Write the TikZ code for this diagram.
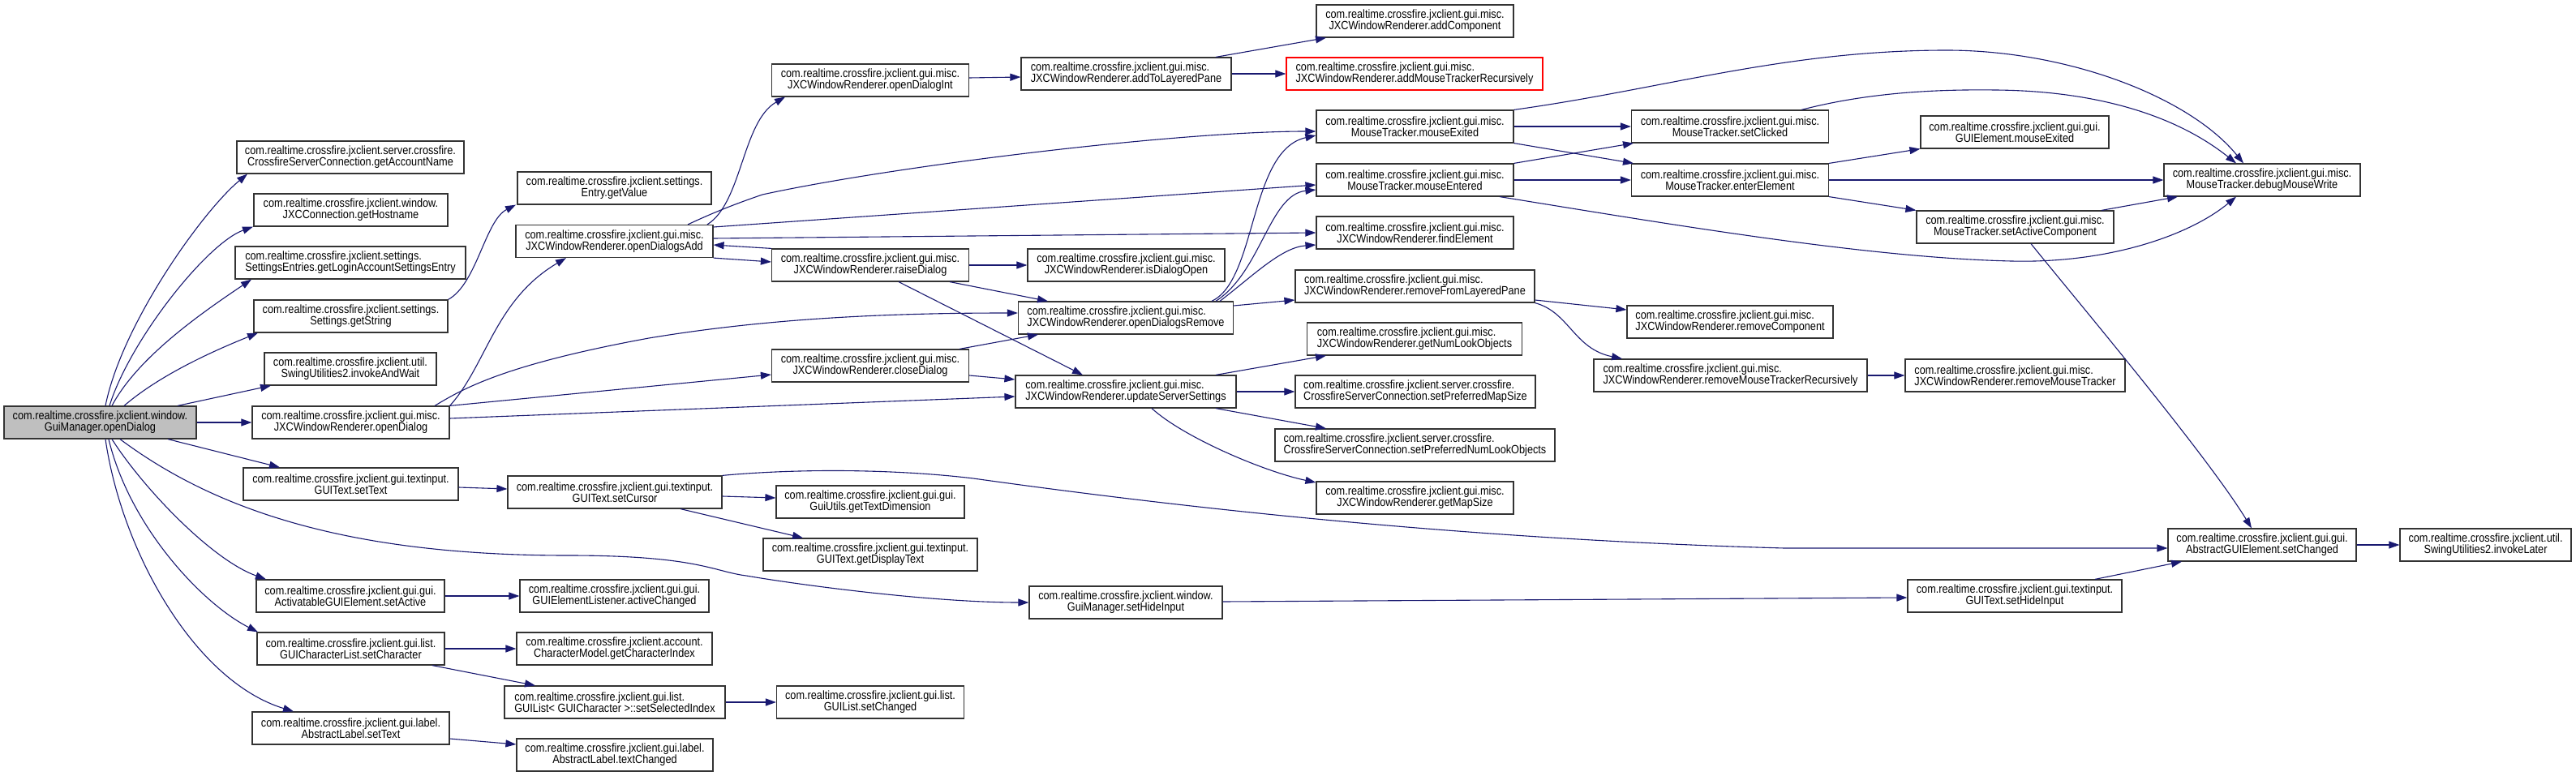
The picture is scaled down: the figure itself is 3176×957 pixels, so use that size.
\documentclass[tikz,border=0pt]{standalone}
\usepackage{fontspec}
\setmainfont{Liberation Sans}[FakeStretch=0.865]
\usetikzlibrary{arrows.meta}
\definecolor{edgeblue}{HTML}{191970}
\definecolor{nodegray}{HTML}{BFBFBF}
\definecolor{boxline}{HTML}{333333}
\begin{document}
\begin{tikzpicture}[x=1pt,y=-1pt,
  box/.style={draw=boxline, line width=1.2pt, fill=white, rectangle, minimum height=40pt,
    inner sep=0pt, font=\fontsize{14.7}{14}\selectfont, align=center, text=black},
  lbox/.style={box, align=left},
  edge/.style={draw=edgeblue, line width=1.1pt, -{Triangle[length=13pt,width=9pt]}}]
\useasboundingbox (0,0) rectangle (3176,957);

% column 0/1
\node[box, minimum width=237pt, fill=nodegray] (M) at (123.5,521) {com.realtime.crossfire.jxclient.window.\\GuiManager.openDialog};
\node[box, minimum width=280pt] (acct) at (432,194) {com.realtime.crossfire.jxclient.server.crossfire.\\CrossfireServerConnection.getAccountName};
\node[box, minimum width=239pt] (host) at (432.5,259) {com.realtime.crossfire.jxclient.window.\\JXCConnection.getHostname};
\node[lbox, minimum width=284pt] (login) at (432,324) {com.realtime.crossfire.jxclient.settings.\\SettingsEntries.getLoginAccountSettingsEntry};
\node[box, minimum width=239pt] (getstr) at (432.5,390) {com.realtime.crossfire.jxclient.settings.\\Settings.getString};
\node[box, minimum width=212pt] (iaw) at (432,455) {com.realtime.crossfire.jxclient.util.\\SwingUtilities2.invokeAndWait};
\node[box, minimum width=243pt] (od) at (432.5,521) {com.realtime.crossfire.jxclient.gui.misc.\\JXCWindowRenderer.openDialog};
\node[box, minimum width=265pt] (settext) at (432.5,597) {com.realtime.crossfire.jxclient.gui.textinput.\\GUIText.setText};
\node[box, minimum width=232pt] (setactive) at (432,735) {com.realtime.crossfire.jxclient.gui.gui.\\ActivatableGUIElement.setActive};
\node[box, minimum width=231pt] (setchar) at (432.5,800) {com.realtime.crossfire.jxclient.gui.list.\\GUICharacterList.setCharacter};
\node[box, minimum width=243pt] (lbltext) at (432.5,898) {com.realtime.crossfire.jxclient.gui.label.\\AbstractLabel.setText};

% column 2
\node[box, minimum width=239pt] (getvalue) at (757.5,232) {com.realtime.crossfire.jxclient.settings.\\Entry.getValue};
\node[box, minimum width=243pt] (oda) at (757.5,297.5) {com.realtime.crossfire.jxclient.gui.misc.\\JXCWindowRenderer.openDialogsAdd};
\node[box, minimum width=264pt] (cursor) at (758,607) {com.realtime.crossfire.jxclient.gui.textinput.\\GUIText.setCursor};
\node[box, minimum width=233pt] (activechanged) at (757.5,735) {com.realtime.crossfire.jxclient.gui.gui.\\GUIElementListener.activeChanged};
\node[box, minimum width=241pt] (charindex) at (757.5,800) {com.realtime.crossfire.jxclient.account.\\CharacterModel.getCharacterIndex};
\node[lbox, minimum width=272pt] (selidx) at (758,866) {com.realtime.crossfire.jxclient.gui.list.\\GUIList< GUICharacter >::setSelectedIndex};
\node[box, minimum width=242pt] (textchanged) at (758,931) {com.realtime.crossfire.jxclient.gui.label.\\AbstractLabel.textChanged};

% column 3
\node[box, minimum width=243pt] (odi) at (1073,99) {com.realtime.crossfire.jxclient.gui.misc.\\JXCWindowRenderer.openDialogInt};
\node[box, minimum width=243pt] (raise) at (1073,327) {com.realtime.crossfire.jxclient.gui.misc.\\JXCWindowRenderer.raiseDialog};
\node[box, minimum width=243pt] (close) at (1073,451) {com.realtime.crossfire.jxclient.gui.misc.\\JXCWindowRenderer.closeDialog};
\node[box, minimum width=232pt] (textdim) at (1073,619) {com.realtime.crossfire.jxclient.gui.gui.\\GuiUtils.getTextDimension};
\node[box, minimum width=264pt] (disptext) at (1073,684) {com.realtime.crossfire.jxclient.gui.textinput.\\GUIText.getDisplayText};
\node[box, minimum width=231pt] (listchanged) at (1073,866) {com.realtime.crossfire.jxclient.gui.list.\\GUIList.setChanged};

% column 4
\node[lbox, minimum width=259pt] (atlp) at (1388.5,91) {com.realtime.crossfire.jxclient.gui.misc.\\JXCWindowRenderer.addToLayeredPane};
\node[box, minimum width=243pt] (isopen) at (1388.5,327) {com.realtime.crossfire.jxclient.gui.misc.\\JXCWindowRenderer.isDialogOpen};
\node[lbox, minimum width=265pt] (odr) at (1388,392) {com.realtime.crossfire.jxclient.gui.misc.\\JXCWindowRenderer.openDialogsRemove};
\node[lbox, minimum width=272pt] (uss) at (1388,483) {com.realtime.crossfire.jxclient.gui.misc.\\JXCWindowRenderer.updateServerSettings};
\node[box, minimum width=238pt] (gmhide) at (1388,743) {com.realtime.crossfire.jxclient.window.\\GuiManager.setHideInput};

% column 5
\node[box, minimum width=243pt] (addcomp) at (1744.5,26) {com.realtime.crossfire.jxclient.gui.misc.\\JXCWindowRenderer.addComponent};
\node[lbox, minimum width=316pt, draw=red] (amtr) at (1744,91) {com.realtime.crossfire.jxclient.gui.misc.\\JXCWindowRenderer.addMouseTrackerRecursively};
\node[box, minimum width=243pt] (mexit) at (1744.5,156) {com.realtime.crossfire.jxclient.gui.misc.\\MouseTracker.mouseExited};
\node[box, minimum width=243pt] (menter) at (1744.5,222) {com.realtime.crossfire.jxclient.gui.misc.\\MouseTracker.mouseEntered};
\node[box, minimum width=243pt] (find) at (1744.5,287) {com.realtime.crossfire.jxclient.gui.misc.\\JXCWindowRenderer.findElement};
\node[lbox, minimum width=295pt] (rflp) at (1744.5,353) {com.realtime.crossfire.jxclient.gui.misc.\\JXCWindowRenderer.removeFromLayeredPane};
\node[lbox, minimum width=265pt] (numlook) at (1744,418) {com.realtime.crossfire.jxclient.gui.misc.\\JXCWindowRenderer.getNumLookObjects};
\node[lbox, minimum width=296pt] (prefmap) at (1745,483) {com.realtime.crossfire.jxclient.server.crossfire.\\CrossfireServerConnection.setPreferredMapSize};
\node[lbox, minimum width=345pt] (prefnum) at (1744.5,549) {com.realtime.crossfire.jxclient.server.crossfire.\\CrossfireServerConnection.setPreferredNumLookObjects};
\node[box, minimum width=243pt] (mapsize) at (1744.5,614) {com.realtime.crossfire.jxclient.gui.misc.\\JXCWindowRenderer.getMapSize};

% column 6
\node[box, minimum width=243pt] (clicked) at (2133,156) {com.realtime.crossfire.jxclient.gui.misc.\\MouseTracker.setClicked};
\node[box, minimum width=243pt] (enter) at (2133,222) {com.realtime.crossfire.jxclient.gui.misc.\\MouseTracker.enterElement};
\node[lbox, minimum width=254pt] (remcomp) at (2133,397) {com.realtime.crossfire.jxclient.gui.misc.\\JXCWindowRenderer.removeComponent};
\node[lbox, minimum width=337pt] (rmtr) at (2133.5,463) {com.realtime.crossfire.jxclient.gui.misc.\\JXCWindowRenderer.removeMouseTrackerRecursively};

% column 7
\node[box, minimum width=232pt] (guimexit) at (2484,163) {com.realtime.crossfire.jxclient.gui.gui.\\GUIElement.mouseExited};
\node[box, minimum width=243pt] (sac) at (2484.5,280) {com.realtime.crossfire.jxclient.gui.misc.\\MouseTracker.setActiveComponent};
\node[lbox, minimum width=271pt] (rmt) at (2484.5,463) {com.realtime.crossfire.jxclient.gui.misc.\\JXCWindowRenderer.removeMouseTracker};
\node[box, minimum width=264pt] (txthide) at (2484,735) {com.realtime.crossfire.jxclient.gui.textinput.\\GUIText.setHideInput};

% column 8/9
\node[box, minimum width=242pt] (dmw) at (2789,222) {com.realtime.crossfire.jxclient.gui.misc.\\MouseTracker.debugMouseWrite};
\node[box, minimum width=232pt] (setchanged) at (2789,672) {com.realtime.crossfire.jxclient.gui.gui.\\AbstractGUIElement.setChanged};
\node[box, minimum width=211pt] (invokelater) at (3064.5,672) {com.realtime.crossfire.jxclient.util.\\SwingUtilities2.invokeLater};

% ---- edges from main
\draw[edge] (M.north -| 130,0) .. controls (150,400) and (250,260) .. (acct.south -| 305,0);
\draw[edge] (M.north -| 135,0) .. controls (160,420) and (255,300) .. (host.south -| 312,0);
\draw[edge] (M.north -| 138,0) .. controls (170,440) and (250,385) .. (login.south -| 310,0);
\draw[edge] (M.north -| 153,0) .. controls (200,460) and (270,430) .. (getstr.south -| 318,0);
\draw[edge] (M.north -| 219,0) -- (iaw.south -| 334,0);
\draw[edge] (M.east) -- (od.west);
\draw[edge] (M.south -| 207,0) -- (settext.north -| 345,0);
\draw[edge] (M.south -| 148,0) .. controls (260,625) and (420,685) .. (700,685) .. controls (860,685) and (880,705) .. (920,710) .. controls (990,722) and (1150,743) .. (gmhide.west);
\draw[edge] (M.south -| 138,0) .. controls (175,600) and (260,690) .. (setactive.north -| 328,0);
\draw[edge] (M.south -| 134,0) .. controls (160,650) and (250,745) .. (setchar.north -| 318,0);
\draw[edge] (M.south -| 130,0) .. controls (150,680) and (240,840) .. (lbltext.north -| 362,0);

% getString
\draw[edge] (getstr.north east) .. controls (588,350) and (598,272) .. (getvalue.south -| 636,0);

% openDialog
\draw[edge] (od.north east) .. controls (600,450) and (610,370) .. (oda.south -| 698,0);
\draw[edge] (od.north -| 536,0) .. controls (570,480) and (620,450) .. (800,417) .. controls (950,392) and (1100,386) .. (odr.west |- 0,386);
\draw[edge] (od.north east) -- (close.west |- 0,462);
\draw[edge] (od.east |- 0,516) -- (uss.west |- 0,489);

% openDialogsAdd
\draw[edge] (oda.north -| 872,0) .. controls (915,250) and (915,150) .. (odi.south -| 968,0);
\draw[edge] (oda.north -| 848,0) .. controls (880,262) and (905,252) .. (940,240) .. controls (1100,205) and (1450,162) .. (mexit.west |- 0,162);
\draw[edge] (oda.east |- 0,280) -- (menter.west |- 0,228);
\draw[edge] (oda.east |- 0,294) -- (find.west |- 0,287);
\draw[edge] (oda.south east) -- (raise.west |- 0,323);
\draw[edge] (raise.north west) -- (oda.east |- 0,302);

% raiseDialog
\draw[edge] (raise.east) -- (isopen.west);
\draw[edge] (raise.south -| 1171,0) -- (odr.north -| 1292,0);
\draw[edge] (raise.south -| 1108,0) -- (uss.north -| 1335,0);

% closeDialog
\draw[edge] (close.north -| 1183,0) -- (odr.south -| 1280,0);
\draw[edge] (close.east |- 0,463) -- (uss.west |- 0,468);

% openDialogsRemove
\draw[edge] (odr.east |- 0,377) -- (rflp.west |- 0,370);
\draw[edge] (odr.north -| 1494,0) .. controls (1550,345) and (1540,185) .. (mexit.west |- 0,167);
\draw[edge] (odr.north -| 1499,0) .. controls (1555,335) and (1565,240) .. (menter.west |- 0,234);
\draw[edge] (odr.north -| 1504,0) .. controls (1545,340) and (1580,305) .. (find.west |- 0,302);

% updateServerSettings
\draw[edge] (uss.north -| 1499,0) -- (numlook.south -| 1635,0);
\draw[edge] (uss.east) -- (prefmap.west);
\draw[edge] (uss.south -| 1499,0) -- (prefnum.north -| 1635,0);
\draw[edge] (uss.south -| 1420,0) .. controls (1460,540) and (1560,582) .. (mapsize.west |- 0,595);

% openDialogInt / addToLayeredPane
\draw[edge] (odi.east |- 0,96) -- (atlp.west |- 0,95);
\draw[edge] (atlp.north -| 1499,0) -- (addcomp.south -| 1635,0);
\draw[edge] (atlp.east) -- (amtr.west);

% mouseExited
\draw[edge] (mexit.east) -- (clicked.west);
\draw[edge] (mexit.south east) -- (enter.north -| 2014,0);
\draw[edge] (mexit.north east) .. controls (2050,110) and (2200,62) .. (2400,62) .. controls (2550,62) and (2700,120) .. (dmw.north -| 2766,0);

% mouseEntered
\draw[edge] (menter.north east) -- (clicked.south -| 2014,0);
\draw[edge] (menter.east) -- (enter.west);
\draw[edge] (menter.south -| 1849,0) .. controls (2050,275) and (2300,318) .. (2480,322) .. controls (2600,325) and (2700,290) .. (dmw.south -| 2757,0);

% setClicked
\draw[edge] (clicked.north -| 2221,0) .. controls (2300,115) and (2380,110) .. (2460,111) .. controls (2580,112) and (2680,140) .. (dmw.north -| 2757,0);

% enterElement
\draw[edge] (enter.north east) -- (guimexit.south west);
\draw[edge] (enter.east) -- (dmw.west);
\draw[edge] (enter.south east) -- (sac.north west);

% setActiveComponent
\draw[edge] (sac.north -| 2591,0) -- (dmw.south -| 2685,0);
\draw[edge] (sac.south -| 2504,0) .. controls (2560,370) and (2720,560) .. (setchanged.north -| 2776,0);

% removeFromLayeredPane
\draw[edge] (rflp.east |- 0,370) -- (remcomp.west |- 0,382);
\draw[edge] (rflp.south east) .. controls (1935,385) and (1940,430) .. (rmtr.north -| 2000,0);
\draw[edge] (rmtr.east) -- (rmt.west);

% text input chain
\draw[edge] (settext.east |- 0,601) -- (cursor.west |- 0,603);
\draw[edge] (cursor.east |- 0,612) -- (textdim.west |- 0,614);
\draw[edge] (cursor.south -| 839,0) -- (disptext.north -| 990,0);
\draw[edge] (cursor.north east) .. controls (980,578) and (1100,578) .. (1200,590) .. controls (1450,625) and (1800,665) .. (2200,676) -- (setchanged.west |- 0,676);
\draw[edge] (gmhide.east |- 0,742) -- (txthide.west |- 0,737);
\draw[edge] (txthide.north -| 2583,0) -- (setchanged.south -| 2690,0);
\draw[edge] (setchanged.east) -- (invokelater.west);

% lower left chains
\draw[edge] (setactive.east) -- (activechanged.west);
\draw[edge] (setchar.east) -- (charindex.west);
\draw[edge] (setchar.south -| 533,0) -- (selidx.north -| 660,0);
\draw[edge] (selidx.east) -- (listchanged.west);
\draw[edge] (lbltext.east |- 0,911) -- (textchanged.west |- 0,918);
\end{tikzpicture}
\end{document}
